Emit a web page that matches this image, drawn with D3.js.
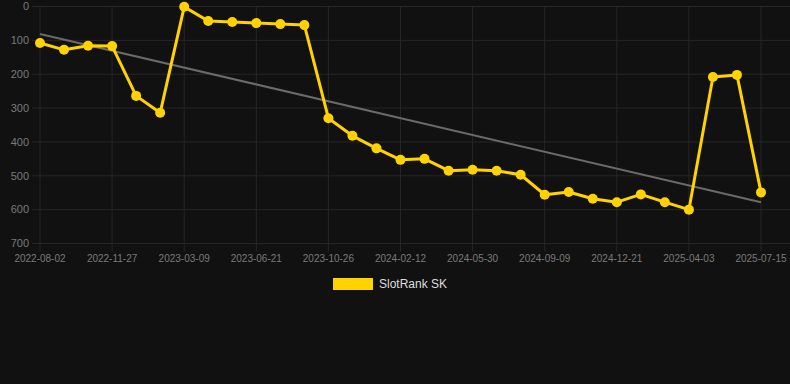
<!DOCTYPE html>
<html>
<head>
<meta charset="utf-8">
<script src="https://cdn.jsdelivr.net/npm/d3@7"></script>
<style>
  html, body { margin: 0; padding: 0; background: #111111; }
  svg { display: block; }
  text { font-family: "Liberation Sans", Arial, Helvetica, sans-serif; }
</style>
</head>
<body>
<svg id="chart" width="790" height="384"></svg>
<script>
const categories = [
  "2022-08-02","2022-09-10","2022-10-19","2022-11-27","2022-12-31","2023-02-03",
  "2023-03-09","2023-04-12","2023-05-17","2023-06-21","2023-08-03","2023-09-14",
  "2023-10-26","2023-12-01","2024-01-06","2024-02-12","2024-03-18","2024-04-24",
  "2024-05-30","2024-07-03","2024-08-06","2024-09-09","2024-10-13","2024-11-17",
  "2024-12-21","2025-01-24","2025-02-28","2025-04-03","2025-05-07","2025-06-11",
  "2025-07-15"
];
const rankValues = [
  108,128,116,117,264,314,
  1,43,46,49,52,55,
  330,382,419,453,450,485,
  482,485,497,556,548,568,
  578,555,578,600,208,202,
  549
];
const xTickLabels = ["2022-08-02","2022-11-27","2023-03-09","2023-06-21","2023-10-26",
  "2024-02-12","2024-05-30","2024-09-09","2024-12-21","2025-04-03","2025-07-15"];
const yTicks = [0,100,200,300,400,500,600,700];
const seriesName = "SlotRank SK";

const svg = d3.select("#chart");
const mLeft = 40, mRight = 761, mTop = 6.5, mBottom = 243.5;

const x = d3.scalePoint().domain(categories).range([mLeft, mRight]);
const y = d3.scaleLinear().domain([0, 700]).range([mTop, mBottom]);

const gridColor = "#262626";
const tickColor = "#7a7a7a";

// horizontal grid
svg.append("g").selectAll("line").data(yTicks).join("line")
  .attr("x1", mLeft - 8).attr("x2", 790)
  .attr("y1", d => y(d)).attr("y2", d => y(d))
  .attr("stroke", gridColor).attr("stroke-width", 1);

// vertical grid
svg.append("g").selectAll("line").data(xTickLabels).join("line")
  .attr("x1", d => x(d)).attr("x2", d => x(d))
  .attr("y1", mTop).attr("y2", mBottom + 8)
  .attr("stroke", gridColor).attr("stroke-width", 1);

// y labels
svg.append("g").selectAll("text").data(yTicks).join("text")
  .attr("x", 29).attr("y", d => y(d)).attr("dy", "0.35em")
  .attr("text-anchor", "end").attr("fill", tickColor)
  .style("font-size", "11px").text(d => d);

// x labels
svg.append("g").selectAll("text").data(xTickLabels).join("text")
  .attr("x", d => x(d)).attr("y", 262)
  .attr("text-anchor", "middle").attr("fill", tickColor)
  .style("font-size", "10px").text(d => d);

// trend line (least squares)
const n = rankValues.length;
const xs = d3.range(n);
const mx = d3.mean(xs), my = d3.mean(rankValues);
const slope = d3.sum(xs, i => (i - mx) * (rankValues[i] - my)) / d3.sum(xs, i => (i - mx) ** 2);
const intercept = my - slope * mx;
svg.append("line")
  .attr("x1", x(categories[0])).attr("y1", y(intercept))
  .attr("x2", x(categories[n - 1])).attr("y2", y(intercept + slope * (n - 1)))
  .attr("stroke", "#6a6a6a").attr("stroke-width", 2);

// main line
const yellow = "#ffd200";
const line = d3.line().x((d, i) => x(categories[i])).y(d => y(d));
svg.append("path").datum(rankValues)
  .attr("d", line).attr("fill", "none")
  .attr("stroke", yellow).attr("stroke-width", 3).attr("stroke-linejoin", "round");

svg.append("g").selectAll("circle").data(rankValues).join("circle")
  .attr("cx", (d, i) => x(categories[i])).attr("cy", d => y(d))
  .attr("r", 5).attr("fill", yellow);

// legend
svg.append("rect").attr("x", 333).attr("y", 278).attr("width", 40).attr("height", 12)
  .attr("fill", yellow);
svg.append("text").attr("x", 379).attr("y", 284).attr("dy", "0.35em")
  .attr("fill", "#dddddd").style("font-size", "12px").text(seriesName);
</script>
</body>
</html>
